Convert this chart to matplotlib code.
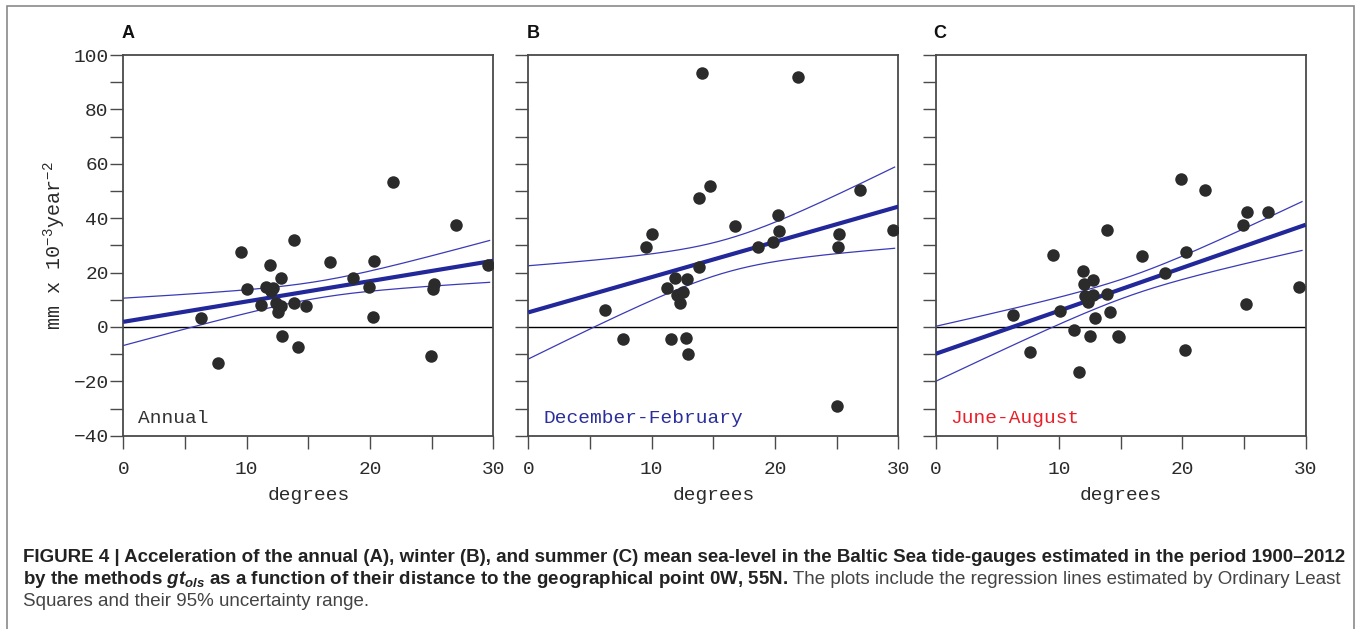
import numpy as np
import matplotlib
matplotlib.use("Agg")
import matplotlib.pyplot as plt
from matplotlib.ticker import MultipleLocator, FixedLocator
from matplotlib.patches import Rectangle

# ---------------- data ----------------
annual_x = [6.27, 7.68, 9.54, 10.03, 11.19, 11.54, 11.89, 12.10, 11.95, 12.35,
            12.57, 12.78, 12.78, 12.89, 13.84, 13.81, 14.14, 14.81, 16.73, 18.62,
            19.89, 20.32, 20.22, 21.89, 24.97, 25.20, 25.10, 26.95, 29.54]
annual_y = [3.3, -13.1, 27.7, 14.0, 8.2, 14.7, 22.9, 14.3, 13.2, 8.8,
            5.5, 7.6, 18.0, -3.2, 32.1, 8.7, -7.5, 7.7, 23.7, 17.9,
            14.7, 24.4, 3.6, 53.2, -10.8, 15.9, 14.1, 37.3, 22.9]

winter_x = [6.24, 7.68, 9.51, 10.03, 11.22, 11.54, 11.89, 12.03, 12.84, 12.51,
            12.32, 12.76, 12.92, 13.84, 13.81, 14.11, 14.76, 16.76, 18.59, 19.86,
            20.22, 20.35, 21.89, 25.00, 25.16, 25.11, 26.92, 29.54]
winter_y = [6.4, -4.5, 29.4, 34.1, 14.3, -4.3, 18.0, 11.8, 17.7, 12.9,
            8.9, -3.9, -9.9, 47.4, 22.1, 93.4, 51.9, 37.0, 29.4, 31.4,
            41.3, 35.2, 91.9, -29.1, 34.0, 29.5, 50.4, 35.7]

summer_x = [6.27, 7.67, 9.50, 10.05, 11.21, 11.59, 11.91, 11.99, 12.07, 12.37,
            12.77, 12.75, 12.50, 12.91, 13.85, 13.85, 14.10, 14.77, 14.88, 16.72,
            18.60, 19.88, 20.31, 20.20, 21.87, 24.95, 25.22, 25.14, 26.92, 29.49]
summer_y = [4.4, -9.1, 26.5, 5.9, -1.0, -16.6, 20.7, 15.9, 11.3, 9.3,
            17.4, 11.6, -3.4, 3.3, 35.8, 12.0, 5.4, -3.3, -3.7, 26.2,
            19.7, 54.3, 27.5, -8.5, 50.5, 37.4, 42.2, 8.5, 42.2, 14.6]

panel_letters = ["A", "B", "C"]
season_labels = ["Annual", "December-February", "June-August"]
season_colors = ["#333333", "#2b2f9c", "#e8202a"]
x_tick_labels = [0, 10, 20, 30]
y_tick_labels = [-40, -20, 0, 20, 40, 60, 80, 100]
band_t = 1.22   # band half-width multiplier, matched to the drawn uncertainty range

caption_1 = ("FIGURE 4 | Acceleration of the annual (A), winter (B), and summer (C) mean "
             "sea-level in the Baltic Sea tide-gauges estimated in the period 1900\u20132012")
caption_2b = ("by the methods $gt_{ols}$ as a function of their distance to the "
              "geographical point 0W, 55N.")
caption_2r = " The plots include the regression lines estimated by Ordinary Least"
caption_3 = "Squares and their 95% uncertainty range."

# ---------------- style ----------------
W, H = 1357, 629
plt.rcParams["mathtext.fontset"] = "custom"
plt.rcParams["mathtext.rm"] = "Liberation Mono"
plt.rcParams["mathtext.it"] = "Liberation Sans:italic:bold"
plt.rcParams["mathtext.bf"] = "Liberation Sans:bold"
MONO = "Liberation Mono"
SPINE = "#4a4a4a"
LINE = "#22289a"

fig = plt.figure(figsize=(W / 100, H / 100), dpi=100)

def fx(px):
    return px / W

def fy(py):
    return 1 - py / H

# outer frame
fig.patches.append(Rectangle((fx(7), fy(640)), fx(1354) - fx(7), fy(6) - fy(640),
                             transform=fig.transFigure, fill=False,
                             edgecolor="#8a8a8a", linewidth=1.2))

axes_left = [123.3, 528.3, 935.7]
axes_width = 370.0
ax_top, ax_bot = 55.0, 435.7

datasets = [(annual_x, annual_y), (winter_x, winter_y), (summer_x, summer_y)]

for i, (xs, ys) in enumerate(datasets):
    L = axes_left[i]
    ax = fig.add_axes([fx(L), fy(ax_bot), fx(axes_width), fy(ax_top) - fy(ax_bot)])
    x = np.asarray(xs)
    y = np.asarray(ys)
    n = len(x)
    slope, intercept = np.polyfit(x, y, 1)
    res = y - (slope * x + intercept)
    s = np.sqrt(np.sum(res ** 2) / (n - 2))
    xm = x.mean()
    sxx = np.sum((x - xm) ** 2)

    xl = np.array([0, 30])
    xb = np.linspace(0, 29.7, 200)
    fit_b = slope * xb + intercept
    half = band_t * s * np.sqrt(1 / n + (xb - xm) ** 2 / sxx)

    ax.axhline(0, color="black", lw=1.0, zorder=1)
    ax.plot(xb, fit_b + half, color="#3a3ab8", lw=0.9, zorder=2)
    ax.plot(xb, fit_b - half, color="#3a3ab8", lw=0.9, zorder=2)
    ax.plot(xl, slope * xl + intercept, color=LINE, lw=3.0, zorder=3,
            solid_capstyle="butt")
    ax.plot(x, y, "o", color="#2b2b2b", markersize=9, markeredgewidth=0, zorder=4)

    ax.set_xlim(0, 30)
    ax.set_ylim(-40, 100)
    ax.xaxis.set_major_locator(FixedLocator(x_tick_labels))
    ax.xaxis.set_minor_locator(MultipleLocator(5))
    ax.yaxis.set_major_locator(FixedLocator(y_tick_labels))
    ax.yaxis.set_minor_locator(MultipleLocator(10))
    ax.tick_params(axis="both", which="both", direction="out", length=9.5,
                   width=1.0, color=SPINE)
    ax.tick_params(axis="x", which="both", pad=9, labelsize=14, labelcolor="#2a2a2a")
    ax.tick_params(axis="y", which="both", pad=1, labelsize=14, labelcolor="#2a2a2a")
    for lab in ax.get_xticklabels() + ax.get_yticklabels():
        lab.set_fontfamily(MONO)
    if i > 0:
        ax.set_yticklabels([])
    for sp in ax.spines.values():
        sp.set_color(SPINE)
        sp.set_linewidth(1.3)

    ax.set_xlabel("degrees", fontfamily=MONO, fontsize=14, color="#2a2a2a", labelpad=6)
    if i == 0:
        ax.set_ylabel("mm x 10$^{-3}$year$^{-2}$", fontfamily=MONO, fontsize=14.5,
                      color="#2a2a2a", labelpad=4)

    ax.text(0.04, 0.034, season_labels[i], transform=ax.transAxes,
            fontfamily=MONO, fontsize=14, color=season_colors[i], ha="left", va="baseline")

    fig.text(fx(L - 2), fy(33), panel_letters[i], fontfamily="Liberation Sans",
             fontweight="bold", fontsize=13, ha="left", va="center", color="#111111")

# caption
CAP = ["Liberation Sans Narrow", "Liberation Sans"]
cap_size = 13.5
fig.text(fx(23), fy(562), caption_1, fontfamily=CAP, fontweight="bold", fontsize=cap_size,
         color="#222222", ha="left", va="baseline")
t2 = fig.text(fx(23), fy(584), caption_2b, fontfamily=CAP, fontweight="bold",
              fontsize=cap_size, color="#222222", ha="left", va="baseline")
fig.canvas.draw()
bb = t2.get_window_extent(renderer=fig.canvas.get_renderer())
fig.text(bb.x1 / W, fy(584), caption_2r, fontfamily=CAP, fontsize=cap_size,
         color="#444444", ha="left", va="baseline")
fig.text(fx(23), fy(606), caption_3, fontfamily=CAP, fontsize=cap_size,
         color="#444444", ha="left", va="baseline")

fig.savefig("out.png", dpi=100)
